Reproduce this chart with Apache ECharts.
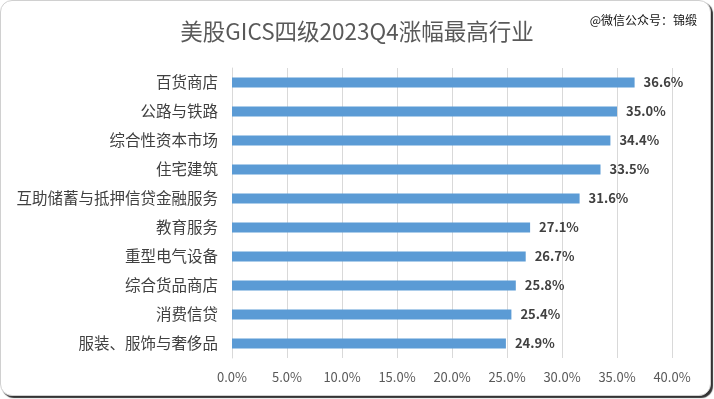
<!DOCTYPE html>
<html>
<head>
<meta charset="utf-8">
<script src="https://cdn.jsdelivr.net/npm/echarts@6/dist/echarts.min.js"></script>
<style>
  html, body { margin: 0; padding: 0; background: #fff; }
  #frame {
    position: absolute; left: 0; top: 0;
    width: 711px; height: 396px; box-sizing: border-box;
    border: 1px solid #d0d0d0; border-radius: 12px;
    box-shadow: 2px 2px 1px rgba(0, 0, 0, 0.8);
    background: #fff;
  }
  #main { position: absolute; left: 0; top: 0; width: 714px; height: 399px; }
</style>
</head>
<body>
<div id="frame"></div>
<div id="main"></div>
<script>
// 行业与季度涨幅（%）
const industries = [
  "百货商店", "公路与铁路", "综合性资本市场", "住宅建筑", "互助储蓄与抵押信贷金融服务",
  "教育服务", "重型电气设备", "综合货品商店", "消费信贷", "服装、服饰与奢侈品",
];
const gains = [36.6, 35.0, 34.4, 33.5, 31.6, 27.1, 26.7, 25.8, 25.4, 24.9];

const chart = echarts.init(document.getElementById("main"), null, { renderer: "canvas" });
const fontFamily = "'Noto Sans CJK SC', 'Noto Sans', sans-serif";

chart.setOption({
  textStyle: { fontFamily },
  title: {
    text: "美股GICS四级2023Q4涨幅最高行业",
    left: "center",
    top: 15,
    textStyle: { fontSize: 22.5, fontWeight: "normal", color: "#595959", fontFamily },
  },
  graphic: [
    {
      type: "text",
      right: 17,
      top: 14,
      style: { text: "@微信公众号：锦缎", fontSize: 12, fill: "#111", fontFamily },
    },
  ],
  grid: { left: 232, right: 42, top: 68, bottom: 41 },
  xAxis: {
    type: "value",
    min: 0,
    max: 40,
    interval: 5,
    axisLine: { show: false },
    axisTick: { show: false },
    splitLine: { lineStyle: { color: "#d9d9d9" } },
    axisLabel: {
      color: "#595959",
      fontSize: 13,
      margin: 13,
      formatter: (v) => v.toFixed(1) + "%",
    },
  },
  yAxis: {
    type: "category",
    inverse: true,
    data: industries,
    axisLine: { lineStyle: { color: "#d9d9d9" } },
    axisTick: { show: false },
    axisLabel: { color: "#404040", fontSize: 15.5, margin: 14 },
  },
  series: [
    {
      type: "bar",
      data: gains,
      barWidth: 10,
      itemStyle: { color: "#5b9bd5" },
      label: {
        show: true,
        position: "right",
        distance: 9,
        color: "#404040",
        fontSize: 13,
        fontWeight: "bold",
        formatter: (p) => p.value.toFixed(1) + "%",
      },
    },
  ],
});
</script>
</body>
</html>
